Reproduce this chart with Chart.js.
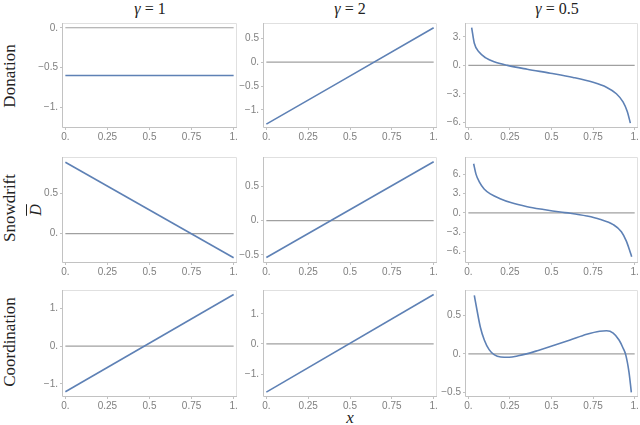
<!DOCTYPE html>
<html>
<head>
<meta charset="utf-8">
<script src="https://cdn.jsdelivr.net/npm/chart.js@4.4.1/dist/chart.umd.min.js"></script>
<style>
  body { margin: 0; background: #fff; }
  #wrap { position: relative; width: 640px; height: 425px; overflow: hidden; font-family: "Liberation Serif", serif; color: #222; }
  canvas { position: absolute; }
  .lbl { position: absolute; white-space: nowrap; transform: translate(-50%, -50%); }
  .rot { transform: translate(-50%, -50%) rotate(-90deg); }
</style>
</head>
<body>
<div id="wrap">
  <div class="lbl" style="left:150px;top:9px;font-size:16px"><i>γ</i> = 1</div>
  <div class="lbl" style="left:350px;top:9px;font-size:16px"><i>γ</i> = 2</div>
  <div class="lbl" style="left:557px;top:9px;font-size:16px"><i>γ</i> = 0.5</div>
  <div class="lbl rot" style="left:10px;top:76px;font-size:17px">Donation</div>
  <div class="lbl rot" style="left:10px;top:208px;font-size:17px">Snowdrift</div>
  <div class="lbl rot" style="left:10px;top:342px;font-size:17px">Coordination</div>
  <div class="lbl rot" style="left:36px;top:210px;font-size:16px"><i style="text-decoration:overline">D</i></div>
  <div class="lbl" style="left:350px;top:418px;font-size:17px"><i>x</i></div>
</div>
<script>
// x axis shared by every panel
const xTicks = [0, 0.25, 0.5, 0.75, 1];
const lineX = [0, 1];

// gamma = 1 and gamma = 2 are straight lines (values at x = 0 and x = 1)
const donationG1 = [-0.6, -0.6];
const donationG2 = [-1.3, 0.72];
const snowdriftG1 = [0.89, -0.3];
const snowdriftG2 = [-0.54, 0.86];
const coordinationG1 = [-1.21, 1.37];
const coordinationG2 = [-1.6, 1.64];

// gamma = 0.5 curves
const donationG05X = [0.02, 0.036, 0.066, 0.105, 0.155, 0.235, 0.354, 0.493, 0.63, 0.75, 0.83, 0.89, 0.93, 0.956, 0.974];
const donationG05Y = [4.0, 2.34, 1.38, 0.79, 0.38, 0, -0.41, -0.83, -1.28, -1.79, -2.31, -3.0, -3.86, -4.9, -6.1];
const snowdriftG05X = [0.032, 0.046, 0.066, 0.095, 0.135, 0.195, 0.255, 0.354, 0.453, 0.553, 0.613, 0.712, 0.79, 0.871, 0.92, 0.95, 0.97, 0.982];
const snowdriftG05Y = [7.6, 6.0, 4.8, 3.7, 2.9, 2.17, 1.6, 0.97, 0.53, 0.14, -0.05, -0.48, -0.97, -1.8, -2.9, -4.35, -5.8, -6.76];
const coordinationG05X = [0.036, 0.052, 0.072, 0.096, 0.125, 0.155, 0.195, 0.245, 0.3, 0.35, 0.42, 0.493, 0.612, 0.712, 0.79, 0.831, 0.871, 0.906, 0.93, 0.946, 0.966, 0.98];
const coordinationG05Y = [0.76, 0.57, 0.35, 0.18, 0.055, -0.01, -0.04, -0.043, -0.025, 0.0, 0.045, 0.095, 0.18, 0.255, 0.295, 0.3, 0.27, 0.18, 0.077, -0.01, -0.24, -0.5];

// y tick labels per panel
const donationG1Ticks = [0, -0.5, -1];
const donationG2Ticks = [0.5, 0, -0.5, -1];
const donationG05Ticks = [3, 0, -3, -6];
const snowdriftG1Ticks = [0.5, 0];
const snowdriftG2Ticks = [0.5, 0, -0.5];
const snowdriftG05Ticks = [6, 3, 0, -3, -6];
const coordinationG1Ticks = [1, 0, -1];
const coordinationG2Ticks = [1, 0, -1];
const coordinationG05Ticks = [0.5, 0, -0.5];

// frame boxes of the grid
const colLeft = [62, 263, 465];
const colRight = [237, 437, 638];
const rowTop = [21, 155, 288];
const rowBottom = [128, 263, 397];

const panels = [
  { row: 0, col: 0, x: lineX, y: donationG1, yMin: -1.26, yMax: 0.06, ticks: donationG1Ticks },
  { row: 0, col: 1, x: lineX, y: donationG2, yMin: -1.38, yMax: 0.82, ticks: donationG2Ticks },
  { row: 0, col: 2, x: donationG05X, y: donationG05Y, yMin: -6.62, yMax: 4.48, ticks: donationG05Ticks },
  { row: 1, col: 0, x: lineX, y: snowdriftG1, yMin: -0.366, yMax: 0.955, ticks: snowdriftG1Ticks },
  { row: 1, col: 1, x: lineX, y: snowdriftG2, yMin: -0.62, yMax: 0.93, ticks: snowdriftG2Ticks },
  { row: 1, col: 2, x: snowdriftG05X, y: snowdriftG05Y, yMin: -7.74, yMax: 8.65, ticks: snowdriftG05Ticks },
  { row: 2, col: 0, x: lineX, y: coordinationG1, yMin: -1.35, yMax: 1.49, ticks: coordinationG1Ticks },
  { row: 2, col: 1, x: lineX, y: coordinationG2, yMin: -1.76, yMax: 1.79, ticks: coordinationG2Ticks },
  { row: 2, col: 2, x: coordinationG05X, y: coordinationG05Y, yMin: -0.56, yMax: 0.83, ticks: coordinationG05Ticks },
];

function fmt(v) {
  const sign = v < 0 ? "\u2212" : "";
  const a = Math.abs(v);
  return Number.isInteger(a) ? sign + a + "." : sign + String(a);
}

// light Mathematica-like frame around the plot area
const framePlugin = {
  id: "frame",
  beforeDatasetsDraw(chart) {
    const a = chart.chartArea;
    const c = chart.ctx;
    c.save();
    c.lineWidth = 1;
    c.strokeStyle = "#e0e0e0";
    c.beginPath();
    c.moveTo(a.left, a.top + 0.5);
    c.lineTo(a.right - 0.5, a.top + 0.5);
    c.lineTo(a.right - 0.5, a.bottom);
    c.stroke();
    c.strokeStyle = "#c2c2c2";
    c.beginPath();
    c.moveTo(a.left + 0.5, a.top);
    c.lineTo(a.left + 0.5, a.bottom - 0.5);
    c.lineTo(a.right, a.bottom - 0.5);
    c.stroke();
    c.restore();
  },
};

const wrap = document.getElementById("wrap");
const tickFont = { family: "Liberation Sans", size: 10 };

function makePanel(p) {
  const L = colLeft[p.col], R = colRight[p.col], T = rowTop[p.row], B = rowBottom[p.row];
  const padL = 40, padT = 6, padR = 8, padB = 15;
  const w = R - L + padL + padR;
  const h = B - T + padT + padB;
  const canvas = document.createElement("canvas");
  canvas.width = w;
  canvas.height = h;
  canvas.style.width = w + "px";
  canvas.style.height = h + "px";
  canvas.style.left = L - padL + "px";
  canvas.style.top = T - padT + "px";
  wrap.appendChild(canvas);

  new Chart(canvas, {
    type: "line",
    data: {
      datasets: [
        {
          data: p.x.map((v, i) => ({ x: v, y: p.y[i] })),
          borderColor: "#5E81B5",
          borderWidth: 1.6,
          pointRadius: 0,
          cubicInterpolationMode: "monotone",
          fill: false,
        },
        {
          data: lineX.map((v) => ({ x: v, y: 0 })),
          borderColor: "#a0a0a0",
          borderWidth: 1.2,
          pointRadius: 0,
          fill: false,
        },
      ],
    },
    options: {
      responsive: false,
      animation: false,
      events: [],
      layout: { padding: { left: 0, top: padT, right: padR, bottom: 0 } },
      plugins: { legend: { display: false }, tooltip: { enabled: false } },
      scales: {
        x: {
          type: "linear",
          min: -0.02,
          max: 1.02,
          afterBuildTicks: (s) => { s.ticks = xTicks.map((v) => ({ value: v })); },
          afterFit: (s) => { s.height = padB; },
          ticks: { font: tickFont, color: "#808080", padding: 1, maxRotation: 0, autoSkip: false, callback: (v) => fmt(v) },
          grid: { drawOnChartArea: false, tickLength: 2, color: "#c2c2c2" },
          border: { display: false },
        },
        y: {
          type: "linear",
          min: p.yMin,
          max: p.yMax,
          afterBuildTicks: (s) => { s.ticks = p.ticks.map((v) => ({ value: v })); },
          afterFit: (s) => { s.width = padL; },
          ticks: { font: tickFont, color: "#808080", padding: 2, autoSkip: false, callback: (v) => fmt(v) },
          grid: { drawOnChartArea: false, tickLength: 2, color: "#c2c2c2" },
          border: { display: false },
        },
      },
    },
    plugins: [framePlugin],
  });
}

panels.forEach(makePanel);
</script>
</body>
</html>
